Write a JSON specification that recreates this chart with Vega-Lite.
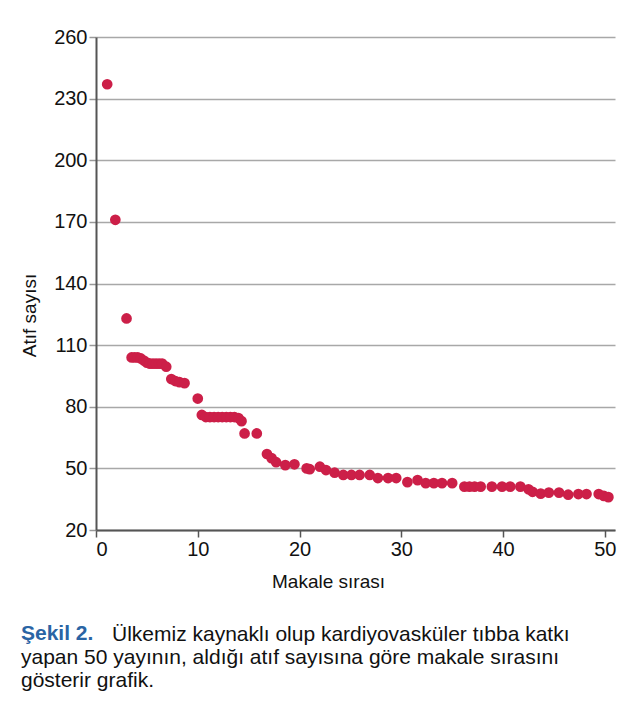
{
  "$schema": "https://vega.github.io/schema/vega-lite/v6.json",
  "autosize": {"type": "pad"},
  "padding": {"left": 20, "top": 27, "right": 5, "bottom": 5},
  "background": "white",
  "title": {
    "text": "Şekil 2.",
    "orient": "bottom",
    "anchor": "start",
    "frame": "group",
    "dx": -75,
    "dy": -22,
    "offset": 0,
    "font": "Liberation Sans",
    "fontSize": 21,
    "lineHeight": 22,
    "fontWeight": "bold",
    "color": "#2a64a4",
    "subtitle": [
      "yapan 50 yayının, aldığı atıf sayısına göre makale sırasını",
      "gösterir grafik."
    ],
    "subtitleFont": "Liberation Sans",
    "subtitleFontSize": 21,
    "subtitleColor": "#111111",
    "subtitleLineHeight": 23,
    "subtitlePadding": 3
  },
  "vconcat": [
    {
      "width": 519,
      "height": 493,
      "title": {
        "text": "Ülkemiz kaynaklı olup kardiyovasküler tıbba katkı",
        "orient": "bottom",
        "anchor": "start",
        "frame": "group",
        "dx": 16,
        "offset": 33,
        "font": "Liberation Sans",
        "fontSize": 21,
        "lineHeight": 22,
        "fontWeight": "normal",
        "color": "#111111"
      },
      "data": {
        "values": [
          {"sira": 1.1, "atif": 237},
          {"sira": 1.9, "atif": 171},
          {"sira": 3.0, "atif": 123},
          {"sira": 3.5, "atif": 104},
          {"sira": 3.8, "atif": 104},
          {"sira": 4.1, "atif": 104},
          {"sira": 4.4, "atif": 103.5},
          {"sira": 4.7, "atif": 102.5},
          {"sira": 5.0, "atif": 101.5},
          {"sira": 5.3, "atif": 101},
          {"sira": 5.6, "atif": 101},
          {"sira": 5.9, "atif": 101},
          {"sira": 6.2, "atif": 101},
          {"sira": 6.5, "atif": 101},
          {"sira": 6.9, "atif": 99.5},
          {"sira": 7.4, "atif": 93.5},
          {"sira": 7.8, "atif": 92.5},
          {"sira": 8.2, "atif": 92},
          {"sira": 8.7, "atif": 91.5},
          {"sira": 10.0, "atif": 84},
          {"sira": 10.4, "atif": 76},
          {"sira": 10.8, "atif": 75},
          {"sira": 11.2, "atif": 75},
          {"sira": 11.6, "atif": 75},
          {"sira": 12.0, "atif": 75},
          {"sira": 12.4, "atif": 75},
          {"sira": 12.8, "atif": 75},
          {"sira": 13.2, "atif": 75},
          {"sira": 13.6, "atif": 75},
          {"sira": 14.0, "atif": 74.5},
          {"sira": 14.3, "atif": 73},
          {"sira": 14.6, "atif": 67},
          {"sira": 15.8, "atif": 67},
          {"sira": 16.8, "atif": 57},
          {"sira": 17.25, "atif": 55},
          {"sira": 17.7, "atif": 53},
          {"sira": 18.6, "atif": 51.6},
          {"sira": 19.5, "atif": 52},
          {"sira": 20.7, "atif": 50},
          {"sira": 21.0, "atif": 49.6},
          {"sira": 22.0, "atif": 50.8},
          {"sira": 22.6, "atif": 49.2},
          {"sira": 23.45, "atif": 47.9},
          {"sira": 24.3, "atif": 46.8},
          {"sira": 25.1, "atif": 46.8},
          {"sira": 25.9, "atif": 46.8},
          {"sira": 26.9, "atif": 46.8},
          {"sira": 27.7, "atif": 45.3},
          {"sira": 28.7, "atif": 45.3},
          {"sira": 29.5, "atif": 45.3},
          {"sira": 30.6, "atif": 43.3},
          {"sira": 31.6, "atif": 44.3},
          {"sira": 32.4, "atif": 42.8},
          {"sira": 33.2, "atif": 42.8},
          {"sira": 34.0, "atif": 42.8},
          {"sira": 35.0, "atif": 42.8},
          {"sira": 36.2, "atif": 41.1},
          {"sira": 36.7, "atif": 41.1},
          {"sira": 37.2, "atif": 41.1},
          {"sira": 37.8, "atif": 41.1},
          {"sira": 38.9, "atif": 41.1},
          {"sira": 39.9, "atif": 41.1},
          {"sira": 40.7, "atif": 41.1},
          {"sira": 41.7, "atif": 41.1},
          {"sira": 42.5, "atif": 39.8},
          {"sira": 42.9, "atif": 38.6},
          {"sira": 43.7, "atif": 37.7},
          {"sira": 44.5, "atif": 38.2},
          {"sira": 45.5, "atif": 38.2},
          {"sira": 46.4, "atif": 37.2},
          {"sira": 47.4, "atif": 37.5},
          {"sira": 48.2, "atif": 37.5},
          {"sira": 49.4, "atif": 37.5},
          {"sira": 49.9, "atif": 36.6},
          {"sira": 50.35, "atif": 36}
        ]
      },
      "mark": {"type": "circle", "size": 115, "color": "#cc1f48", "opacity": 1},
      "encoding": {
        "x": {
          "field": "sira",
          "type": "quantitative",
          "scale": {"domain": [0, 51], "nice": false, "zero": false},
          "axis": {
            "title": "Makale sırası",
            "values": [0, 10, 20, 30, 40, 50],
            "grid": false,
            "titleX": 232,
            "titleY": 51,
            "titleBaseline": "middle",
            "titleAlign": "center"
          }
        },
        "y": {
          "field": "atif",
          "type": "quantitative",
          "scale": {"domain": [20, 260], "nice": false, "zero": false},
          "axis": {
            "title": "Atıf sayısı",
            "values": [20, 50, 80, 110, 140, 170, 200, 230, 260],
            "grid": true,
            "tickColor": "#999999",
            "titleX": -67,
            "titleY": 278,
            "titleBaseline": "middle",
            "titleAlign": "center"
          }
        }
      }
    }
  ],
  "config": {
    "view": {"stroke": null},
    "font": "Liberation Sans",
    "axis": {
      "domainColor": "#555555",
      "domainWidth": 2,
      "tickColor": "#555555",
      "tickWidth": 1.5,
      "tickSize": 7,
      "gridColor": "#a8a8a8",
      "gridWidth": 1.5,
      "labelFont": "Liberation Sans",
      "labelFontSize": 20,
      "labelColor": "#111111",
      "labelPadding": 2,
      "titleFont": "Liberation Sans",
      "titleFontSize": 19,
      "titleFontWeight": "normal",
      "titleColor": "#111111"
    }
  }
}
